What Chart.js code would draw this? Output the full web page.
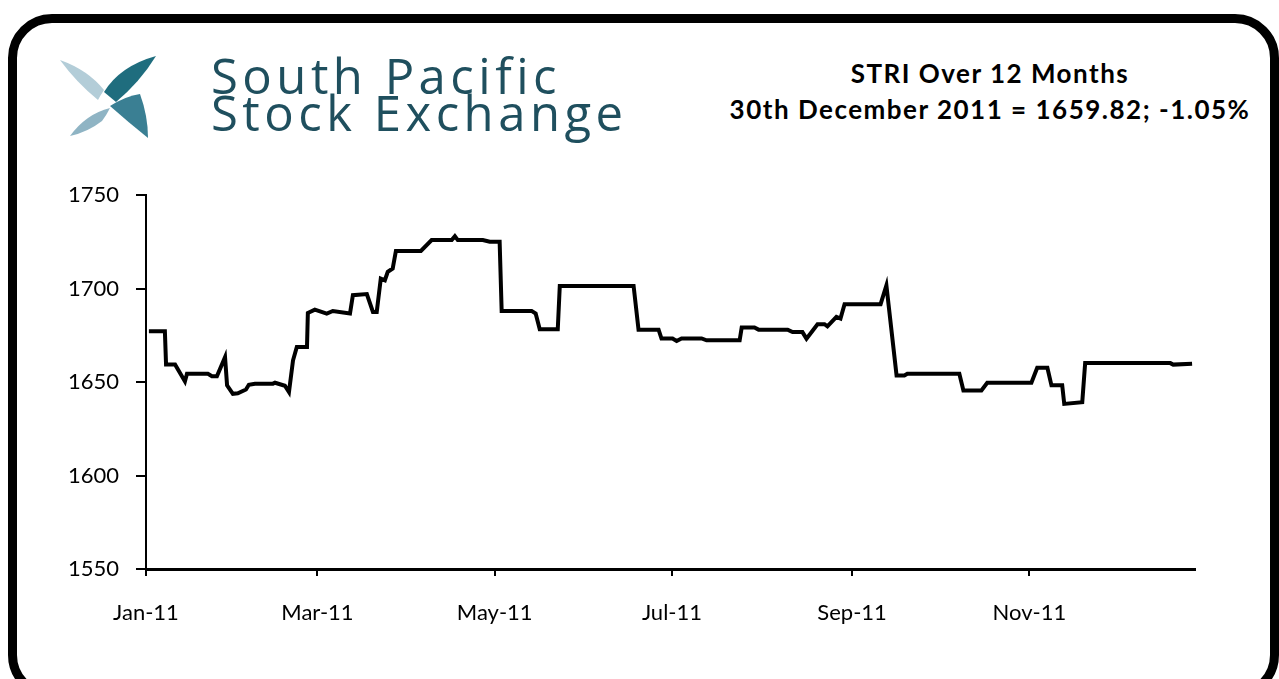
<!DOCTYPE html>
<html>
<head>
<meta charset="utf-8">
<script src="https://cdn.jsdelivr.net/npm/chart.js@4"></script>
<style>
    html, body { margin: 0; padding: 0; background: #fff; }
    body { width: 1279px; height: 679px; overflow: hidden; position: relative; }
    #frame {
        position: absolute; left: 8px; top: 14px; width: 1271px; height: 685px;
        border: 9px solid #000; border-radius: 44px; box-sizing: border-box;
    }
    #wrap { position: absolute; left: 0; top: 0; width: 1279px; height: 679px; }
    #logoText {
        position: absolute; left: 211px; top: 57px;
        font-family: "Open Sans", sans-serif; font-size: 49px; line-height: 37px;
        color: #1f4f5e; letter-spacing: 4.5px;
    }
    #title {
        position: absolute; left: 690px; width: 600px; top: 55px; text-align: center;
        font-family: Lato, sans-serif; font-weight: bold; font-size: 26px; line-height: 36px;
        color: #000; letter-spacing: 1.5px;
    }
    #logoIcon { position: absolute; left: 58px; top: 50px; }
</style>
</head>
<body>
<div id="frame"></div>
<svg id="logoIcon" width="100" height="92" viewBox="0 0 100 92">
    <path d="M46 42 Q62 16 98 6 Q82 32 58 52 Z" fill="#1f6d7e"/>
    <path d="M52 56 Q68 46 82 44 Q90 66 90 88 Q70 72 52 56 Z" fill="#3a7f93"/>
    <path d="M2 10 Q30 20 46 40 Q42 46 40 50 Q18 32 2 10 Z" fill="#b3cdd8"/>
    <path d="M12 86 Q28 64 52 58 Q48 66 44 71 Q30 82 12 86 Z" fill="#8fb4c4"/>
</svg>
<div id="logoText">South Pacific<br>Stock Exchange</div>
<div id="title">STRI Over 12 Months<br>30th December 2011 = 1659.82; -1.05%</div>
<div id="wrap"><canvas id="strichart"></canvas></div>
<script>
// days counted from 1 Jan 2011
const days = [1, 6.5, 6.9, 10, 13.4, 14.1, 21.3, 22.7, 24.4, 27.2, 27.9, 29.9, 31.6, 34.4, 35.4, 37.5,
    43.7, 44.4, 47.8, 49.2, 50.6, 51.9, 55.4, 55.7, 58.1, 62.2, 64.3, 70.2, 71.2, 76, 78.1, 79.4,
    80.8, 82.2, 83.2, 84.9, 86, 94.6, 98.3, 105.2, 106.3, 107.3, 115.9, 118.3, 121.7, 122.4, 132.7,
    134.1, 135.5, 141.7, 142.4, 167.8, 169.5, 176.4, 177.4, 181.2, 182.6, 184.3, 191.2, 192.9,
    204.3, 205, 209.4, 210.8, 220.8, 222.5, 225.9, 227.3, 231.1, 233.5, 234.5, 237.6, 239, 240.4,
    252.8, 254.8, 258.3, 261, 262, 279.9, 281.3, 287.5, 289.5, 304.7, 306.7, 310.2, 311.6, 315.3,
    316, 322.2, 323.2, 352.5, 353.5, 360];
const striValues = [1677.1, 1677.1, 1659.4, 1659.4, 1650.3, 1654.4, 1654.4, 1653.1, 1653.1, 1663.3,
    1648.2, 1643.7, 1644, 1646, 1648.5, 1649.1, 1649.1, 1649.6, 1648, 1644.6, 1661.6, 1668.7, 1668.7,
    1686.9, 1688.7, 1686.6, 1688, 1686.6, 1696.4, 1697, 1687.5, 1687.5, 1705.3, 1704.4, 1708.9,
    1710.7, 1720.1, 1720.1, 1725.9, 1725.9, 1728, 1725.9, 1725.9, 1725, 1725, 1688, 1688, 1686.6,
    1678.2, 1678.2, 1701.4, 1701.4, 1678, 1678, 1673.2, 1673.2, 1671.9, 1673.3, 1673.3, 1672.3,
    1672.3, 1679.1, 1679.1, 1678, 1678, 1676.7, 1676.7, 1673.2, 1680.9, 1680.9, 1679.8, 1684.8,
    1683.9, 1691.6, 1691.6, 1701.6, 1653.5, 1653.5, 1654.4, 1654.4, 1645.5, 1645.5, 1649.6, 1649.6,
    1657.6, 1657.6, 1648.2, 1648.2, 1638.3, 1639.2, 1660.1, 1660.1, 1659.3, 1659.8];

const monthTickDays = [0, 59, 120, 181, 243, 304];
const monthTickLabels = ['Jan-11', 'Mar-11', 'May-11', 'Jul-11', 'Sep-11', 'Nov-11'];

const ctx = document.getElementById('strichart').getContext('2d');
const points = days.map((d, i) => ({ x: d, y: striValues[i] }));

new Chart(ctx, {
    type: 'line',
    data: {
        datasets: [{
            data: points,
            borderColor: '#000',
            borderWidth: 4,
            pointRadius: 0,
            tension: 0,
            fill: false
        }]
    },
    options: {
        responsive: true,
        maintainAspectRatio: false,
        animation: false,
        layout: { padding: { left: 20, right: 84, top: 195, bottom: 50 } },
        plugins: { legend: { display: false }, tooltip: { enabled: false } },
        scales: {
            x: {
                type: 'linear',
                min: 0,
                max: 361,
                afterBuildTicks: function(axis) {
                    axis.ticks = monthTickDays.map(v => ({ value: v }));
                },
                afterFit: function(axis) { axis.height = 60; },
                ticks: {
                    autoSkip: false,
                    maxRotation: 0,
                    padding: 24,
                    color: '#000',
                    font: { family: 'Lato', size: 22 },
                    callback: function(value) {
                        const i = monthTickDays.indexOf(value);
                        return i >= 0 ? monthTickLabels[i] : '';
                    }
                },
                grid: { drawOnChartArea: false, drawTicks: true, tickLength: 7, color: '#000', lineWidth: 2 },
                border: { display: true, color: '#000', width: 3 }
            },
            y: {
                min: 1550,
                max: 1750,
                afterFit: function(axis) { axis.width = 126; },
                ticks: {
                    stepSize: 50,
                    padding: 17,
                    color: '#000',
                    font: { family: 'Lato', size: 22 },
                    callback: function(value) { return String(value); }
                },
                grid: { drawOnChartArea: false, drawTicks: true, tickLength: 10, color: '#000', lineWidth: 2 },
                border: { display: true, color: '#000', width: 2 }
            }
        }
    }
});
</script>
</body>
</html>
